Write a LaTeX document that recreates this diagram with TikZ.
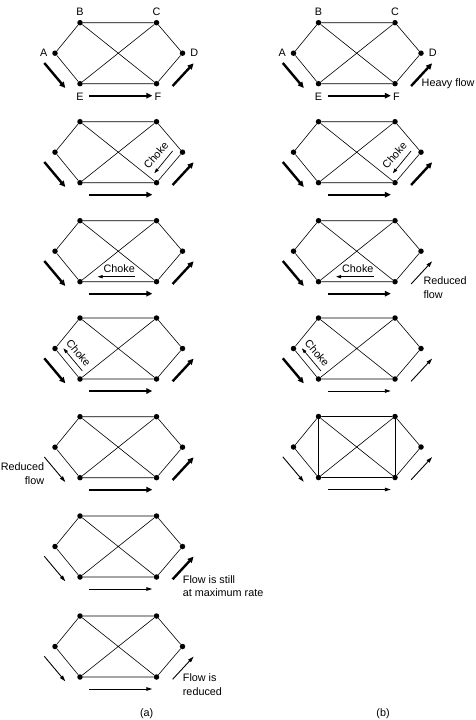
\documentclass[tikz,border=0pt]{standalone}
\usepackage{fontspec}
\setmainfont{Liberation Sans}
\usetikzlibrary{arrows.meta}
\tikzset{
 dot/.style={circle,fill=black,inner sep=0pt,minimum size=5.5pt},
 edge/.style={line width=0.6pt},
 thk/.style={line width=2.4pt,-{Triangle[length=6pt,width=5.5pt]}},
 thn/.style={line width=0.9pt,-{Triangle[length=6pt,width=3.6pt]}},
 chk/.style={line width=0.7pt,-{Triangle[length=5pt,width=3.2pt]}},
 lbl/.style={inner sep=0pt,font=\fontsize{10.8}{13.7}\selectfont},
}
\newcommand\drawnet[3]{%
 \begin{scope}[shift={(#2,#3)}]
  \node[dot] (#1A) at (-25,30.5) {};
  \node[dot] (#1B) at (0,0) {};
  \node[dot] (#1C) at (76.5,0) {};
  \node[dot] (#1D) at (102.5,30.5) {};
  \node[dot] (#1E) at (0,61) {};
  \node[dot] (#1F) at (76.5,61) {};
 \end{scope}
 \draw[edge] (#1A) -- (#1B) -- (#1C) -- (#1D) -- (#1F) -- (#1E) -- (#1A);
 \draw[edge] (#1B) -- (#1F) (#1C) -- (#1E);
}
\newcommand\arAE[2]{\draw[#2] ([shift={(-10.7,9.8)}]#1A.center) -- ([shift={(-14.7,4.3)}]#1E.center);}
\newcommand\arEF[2]{\draw[#2] ([shift={(9.3,12)}]#1E.center) -- ([shift={(-4.2,12)}]#1F.center);}
\newcommand\arFD[2]{\draw[#2] ([shift={(16.1,2.3)}]#1F.center) -- ([shift={(11.1,10.1)}]#1D.center);}
\newcommand\chDF[1]{\draw[chk] ([shift={(-9.9,-1.2)}]#1D.center) -- ([shift={(-2.2,-9.4)}]#1F.center);
 \node[lbl,rotate=49] (#1ck) at ([shift={(76,33.5)}]#1B.center) {Choke};}
\newcommand\chEF[1]{\draw[chk] ([shift={(-21.2,-5)}]#1F.center) -- ([shift={(17.6,-5)}]#1E.center);
 \node[lbl] (#1ck) at ([shift={(39.3,48.1)}]#1B.center) {Choke};}
\newcommand\chAE[1]{\draw[chk] ([shift={(2.4,-8)}]#1E.center) -- ([shift={(8.4,-0.2)}]#1A.center);
 \node[lbl,rotate=-50] (#1ck) at ([shift={(-1.3,34.9)}]#1B.center) {Choke};}
\newcommand\letters[1]{%
 \node[lbl] (#1lA) at ([shift={(-11.3,0)}]#1A.center) {A};
 \node[lbl] (#1lB) at ([shift={(0,-11)}]#1B.center) {B};
 \node[lbl] (#1lC) at ([shift={(0,-11)}]#1C.center) {C};
 \node[lbl] (#1lD) at ([shift={(11.8,0)}]#1D.center) {D};
 \node[lbl] (#1lE) at ([shift={(0,13.4)}]#1E.center) {E};
 \node[lbl] (#1lF) at ([shift={(1.5,13.4)}]#1F.center) {F};}
\begin{document}
\begin{tikzpicture}[x=1pt,y=-1pt]
\useasboundingbox (0,0) rectangle (476,720);
% column (a)
\drawnet{a1}{80}{22.7}
\letters{a1}
\arAE{a1}{thk}\arEF{a1}{thk}\arFD{a1}{thk}
\drawnet{a2}{80}{121.7}
\arAE{a2}{thk}\arEF{a2}{thk}\arFD{a2}{thk}\chDF{a2}
\drawnet{a3}{80}{220.7}
\arAE{a3}{thk}\arEF{a3}{thk}\arFD{a3}{thk}\chEF{a3}
\drawnet{a4}{80}{318}
\arAE{a4}{thk}\arEF{a4}{thk}\arFD{a4}{thk}\chAE{a4}
\drawnet{a5}{80}{416.7}
\arAE{a5}{thn}\arEF{a5}{thk}\arFD{a5}{thk}
\node[lbl,align=right,anchor=north east] (a5t) at ([shift={(-10.7,15.5)}]a5A.center) {Reduced\\flow};
\drawnet{a6}{80}{516}
\arAE{a6}{thn}\arEF{a6}{thn}\arFD{a6}{thk}
\node[lbl,align=left,anchor=north west] (a6t) at ([shift={(26.2,-2)}]a6F.center) {Flow is still\\at maximum rate};
\drawnet{a7}{80}{616}
\arAE{a7}{thn}\arEF{a7}{thn}\arFD{a7}{thn}
\node[lbl,align=left,anchor=north west] (a7t) at ([shift={(26.2,-3.7)}]a7F.center) {Flow is\\reduced};
\node[lbl] (capa) at (146.7,713.5) {(a)};
% column (b)
\drawnet{b1}{318.5}{22.7}
\letters{b1}
\arAE{b1}{thk}\arEF{b1}{thk}\arFD{b1}{thk}
\node[lbl,anchor=base west] (b1t) at ([shift={(26.5,2.5)}]b1F.center) {Heavy flow};
\drawnet{b2}{318.5}{121.7}
\arAE{b2}{thk}\arEF{b2}{thk}\arFD{b2}{thk}\chDF{b2}
\drawnet{b3}{318.5}{220.7}
\arAE{b3}{thk}\arEF{b3}{thk}\arFD{b3}{thn}\chEF{b3}
\node[lbl,align=left,anchor=north west] (b3t) at ([shift={(28.3,-5.2)}]b3F.center) {Reduced\\flow};
\drawnet{b4}{318.5}{318}
\arAE{b4}{thk}\arEF{b4}{thn}\arFD{b4}{thn}\chAE{b4}
\drawnet{b5}{318.5}{416.5}
\draw[edge] (b5B) -- (b5E) (b5C) -- (b5F);
\arAE{b5}{thn}\arEF{b5}{thn}\arFD{b5}{thn}
\node[lbl] (capb) at (383,713.5) {(b)};
\end{tikzpicture}
\end{document}
